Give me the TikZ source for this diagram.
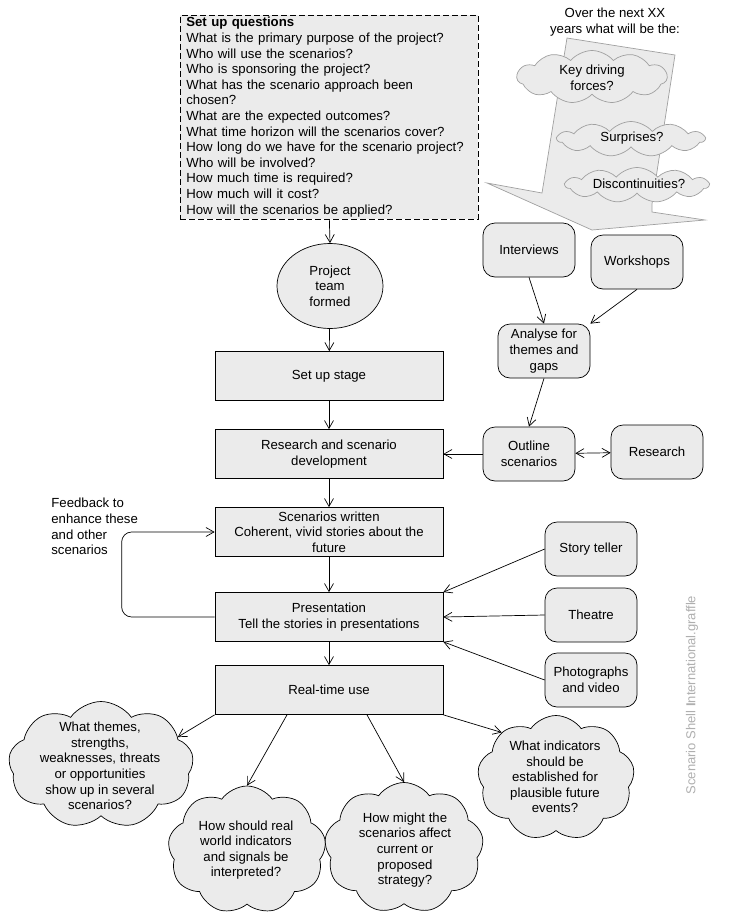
\documentclass[tikz,border=0pt]{standalone}
\usepackage{fontspec}
\setmainfont{Liberation Sans}
\usetikzlibrary{positioning,shapes.geometric,shapes.symbols,arrows.meta}
\definecolor{boxgray}{RGB}{235,235,235}
\definecolor{linegray}{RGB}{160,160,160}
\definecolor{markgray}{RGB}{175,175,175}
\tikzset{
  stage/.style={rectangle,draw,fill=boxgray,minimum width=228pt,minimum height=49pt,inner ysep=1pt,align=center},
  source/.style={rectangle,rounded corners=12pt,draw,fill=boxgray,minimum width=92pt,minimum height=54pt,inner ysep=1pt,align=center},
  thought/.style={cloud,cloud puffs=9,cloud puff arc=110,cloud ignores aspect,draw,fill=boxgray,inner sep=0pt},
  flatthought/.style={thought,draw=linegray,cloud puffs=11,cloud puff arc=100},
  arr/.style={-{Straight Barb[length=8pt,width=9pt]}},
  biarr/.style={{Straight Barb[length=8pt,width=9pt]}-{Straight Barb[length=8pt,width=9pt]}},
}

\begin{document}
\begin{tikzpicture}[x=1pt,y=-1pt,line width=0.7pt,every node/.style={font=\fontsize{13.2}{15.6}\selectfont}]
  \useasboundingbox (0,0) rectangle (732,919);

  % the big arrow with the questions about the next years
  \draw[linegray,fill=boxgray] (567,38) -- (675,55) -- (652,204) -- (652,212) -- (705,220)
    -- (592,230) -- (487,183) -- (542,193) -- cycle;
  \node[align=center] (over) at (615,22) {Over the next XX\\years what will be the:};
  \node[flatthought,minimum width=150pt,minimum height=53pt] (forces) at (592,77) {};
  \node[flatthought,minimum width=147pt,minimum height=35pt] (surprise) at (631,139) {};
  \node[flatthought,minimum width=143pt,minimum height=35pt] (discont) at (637,185) {};
  \node[align=center] (forces-txt) at (592,78) {Key driving\\forces?};
  \node (surprise-txt) at (632,138) {Surprises?};
  \node (discont-txt) at (639,184) {Discontinuities?};

  % main column
  \node[draw,dash pattern=on 6pt off 3pt,fill=boxgray,anchor=north west,text width=286pt,inner xsep=6pt,inner ysep=2pt,
    minimum height=203pt,align=left] (quest) at (180,15) {\textbf{Set up questions}\\
    What is the primary purpose of the project?\\
    Who will use the scenarios?\\
    Who is sponsoring the project?\\
    What has the scenario approach been\\
    chosen?\\
    What are the expected outcomes?\\
    What time horizon will the scenarios cover?\\
    How long do we have for the scenario project?\\
    Who will be involved?\\
    How much time is required?\\
    How much will it cost?\\
    How will the scenarios be applied?};
  \node[ellipse,draw,fill=boxgray,minimum width=106pt,minimum height=85pt,inner sep=0pt,align=center] (team) at (330,286) {Project\\team\\formed};
  \node[stage] (setup) at (329,376) {Set up stage};
  \node[stage] (resdev) at (329,454) {Research and scenario\\development};
  \node[stage] (written) at (329,532) {Scenarios written\\Coherent, vivid stories about the\\future};
  \node[stage] (present) at (329,617) {Presentation\\Tell the stories in presentations};
  \node[stage] (realtime) at (329,690) {Real-time use};

  % inputs on the right
  \node[source] (interv) at (529,250) {Interviews};
  \node[source] (worksh) at (637,262) {Workshops};
  \node[source] (analyse) at (544,351) {Analyse for\\themes and\\gaps};
  \node[source] (outline) at (529,454) {Outline\\scenarios};
  \node[source] (research) at (657,452) {Research};
  \node[source] (story) at (591,549) {Story teller};
  \node[source] (theatre) at (591,615) {Theatre};
  \node[source] (photo) at (591,680) {Photographs\\and video};

  \node[align=left,anchor=north west,inner sep=0pt] (feedback) at (51,498) {Feedback to\\enhance these\\and other\\scenarios};

  % questions for the real-time use
  \node[thought,minimum width=185pt,minimum height=127pt] (themes) at (101,765) {};
  \node[thought,minimum width=158pt,minimum height=128pt] (interp) at (247,850) {};
  \node[thought,minimum width=159pt,minimum height=131pt] (strat) at (404,848) {};
  \node[thought,minimum width=157pt,minimum height=125pt] (indic) at (556,778) {};
  \node[align=center] (themes-txt) at (100,766) {What themes,\\strengths,\\weaknesses, threats\\or opportunities\\show up in several\\scenarios?};
  \node[align=center] (interp-txt) at (246,850) {How should real\\world indicators\\and signals be\\interpreted?};
  \node[align=center] (strat-txt) at (405,850) {How might the\\scenarios affect\\current or\\proposed\\strategy?};
  \node[align=center] (indic-txt) at (555,777) {What indicators\\should be\\established for\\plausible future\\events?};

  \node[rotate=90,text=markgray,font=\fontsize{13}{15}\selectfont] (mark) at (692,695) {Scenario Shell \textbf{I}nternational.graffle};

  \draw[arr] (quest.south) -- (team.north);
  \draw[arr] (team) -- (setup);
  \draw[arr] (setup) -- (resdev);
  \draw[arr] (resdev) -- (written);
  \draw[arr] (written) -- (present);
  \draw[arr] (present) -- (realtime);

  \draw[arr] (interv.south) -- (analyse.north);
  \draw[arr] (worksh.south) -- (analyse.north east);
  \draw[arr] (analyse.south) -- (outline.north);
  \draw[arr] (outline) -- (resdev);
  \draw[biarr] (outline) -- (research);

  \draw[arr] (story.west) -- (present.north east);
  \draw[arr] (theatre.west) -- (present.east);
  \draw[arr] (photo.west) -- (present.south east);
  \draw[arr,rounded corners=10pt] (present.west) -- ++(-93,0) |- (written.west);

  \draw[arr] (realtime.south west) -- (themes.20);
  \draw[arr] ([xshift=-42pt]realtime.south) -- (interp.north);
  \draw[arr] ([xshift=38pt]realtime.south) -- (strat.north);
  \draw[arr] (realtime.south east) -- (indic.140);
\end{tikzpicture}
\end{document}
